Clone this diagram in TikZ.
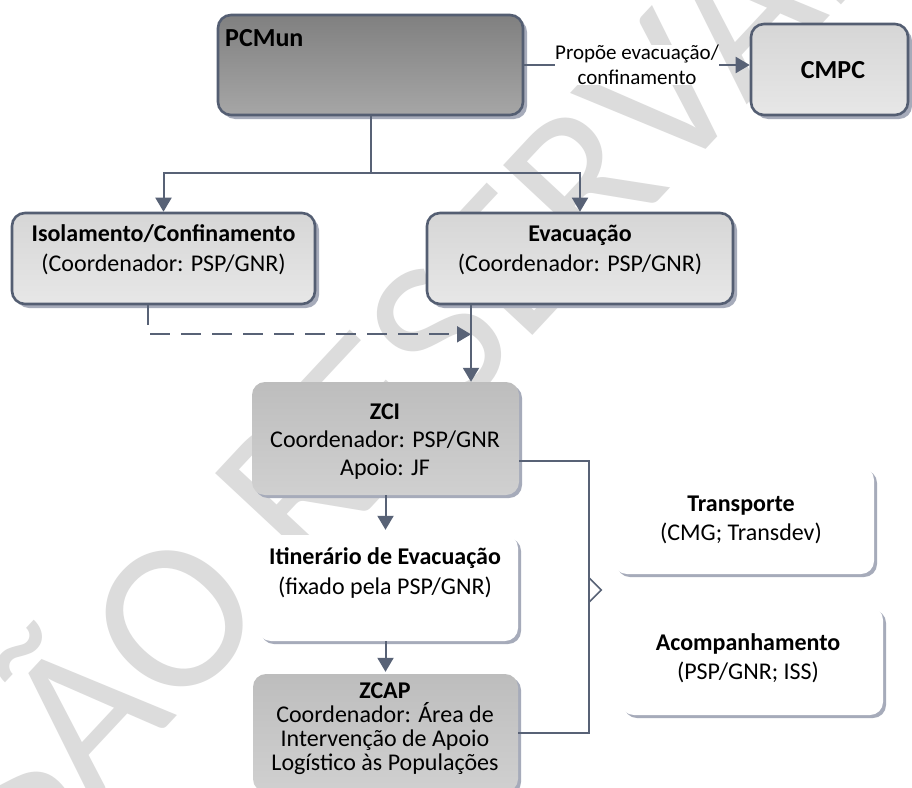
\documentclass[tikz,border=0pt]{standalone}
\usepackage{fontspec}
\setmainfont{Carlito}
\usetikzlibrary{arrows.meta,calc}
\definecolor{edgec}{RGB}{84,94,114}
\definecolor{connc}{RGB}{88,98,118}
\definecolor{shadowc}{RGB}{166,171,186}
\definecolor{wmarkc}{RGB}{220,220,220}
\tikzset{
  conn/.style={draw=connc, line width=2pt},
  arr/.style={-{Triangle[length=14pt,width=16pt]}},
  dashconn/.style={conn, dash pattern=on 20pt off 11pt},
  panel/.style={rectangle, rounded corners=13pt, inner sep=0pt},
  shadowed/.style={preaction={fill=shadowc, transform canvas={shift={(#1,-#1)}}}},
  darkpanel/.style={panel, shadowed=4pt, draw=edgec, line width=2.6pt,
    top color={rgb,255:red,128;green,128;blue,128}, bottom color={rgb,255:red,166;green,166;blue,166}},
  lightpanel/.style={panel, shadowed=4pt, draw=edgec, line width=2.6pt,
    top color={rgb,255:red,214;green,214;blue,214}, bottom color={rgb,255:red,231;green,231;blue,231}},
  graypanel/.style={panel, shadowed=3pt,
    top color={rgb,255:red,189;green,189;blue,189}, bottom color={rgb,255:red,208;green,208;blue,208}},
  whitepanel/.style={panel, shadowed=3pt, fill=white},
  txt/.style={inner sep=0pt, align=center, font=\fontsize{24}{30}\selectfont},
  title/.style={inner sep=0pt, font=\fontsize{26}{30}\selectfont\bfseries},
}
\begin{document}
\begin{tikzpicture}[x=1pt,y=-1pt]
\useasboundingbox (0,0) rectangle (912,787);
\clip (0,0) rectangle (912,787);
\fill[white] (0,0) rectangle (912,787);

% watermark behind everything
\node[inner sep=0pt, text=wmarkc, rotate=47, font=\fontsize{214}{214}\selectfont] (wm) at (338,420) {VERSÃO RESERVADA};

% panels
\node[darkpanel, minimum width=305pt, minimum height=100pt] (pcmun) at (370.5,65) {};
\node[lightpanel, minimum width=157pt, minimum height=91pt] (cmpc) at (829.5,69.5) {};
\node[lightpanel, minimum width=303pt, minimum height=91pt] (iso) at (163.5,258.5) {};
\node[lightpanel, minimum width=306pt, minimum height=91pt] (evac) at (580,258.5) {};
\node[graypanel, minimum width=267pt, minimum height=113pt] (zci) at (385.5,438.5) {};
\node[whitepanel, minimum width=260pt, minimum height=106pt] (itin) at (388,588) {};
\node[graypanel, minimum width=265pt, minimum height=118pt] (zcap) at (385.5,733) {};
\node[whitepanel, minimum width=260pt, minimum height=107pt] (trans) at (744,520.5) {};
\node[whitepanel, minimum width=262pt, minimum height=108pt] (acomp) at (752,661) {};

% texts
\node[title, anchor=west] (pcmunT) at (225,38) {PCMun};
\node[title] (cmpcT) at (833,70) {CMPC};
\node[txt] (isoT) at (163.5,250) {\textbf{Isolamento/Confinamento}\\(Coordenador: PSP/GNR)};
\node[txt] (evacT) at (580,250) {\textbf{Evacuação}\\(Coordenador: PSP/GNR)};
\node[txt, font=\fontsize{24}{28}\selectfont] (zciT) at (385,441.5) {\textbf{ZCI}\\Coordenador: PSP/GNR\\Apoio: JF};
\node[txt] (itinT) at (385,573) {\textbf{Itinerário de Evacuação}\\(fixado pela PSP/GNR)};
\node[txt, font=\fontsize{24}{24}\selectfont] (zcapT) at (385,729) {\textbf{ZCAP}\\Coordenador: Área de\\Intervenção de Apoio\\Logístico às Populações};
\node[txt, font=\fontsize{24}{29}\selectfont] (transT) at (741,519.5) {\textbf{Transporte}\\(CMG; Transdev)};
\node[txt, font=\fontsize{24}{29}\selectfont] (acompT) at (748,658.5) {\textbf{Acompanhamento}\\(PSP/GNR; ISS)};

% connectors
\draw[conn] (pcmun.south) -- ++(0,57) coordinate (split);
\draw[conn, arr] (split) -| (iso.north);
\draw[conn, arr] (split) -| (evac.north);

\draw[conn, arr] (pcmun.east) -- (pcmun.east -| cmpc.west)
  node[midway, fill=white, inner sep=0pt, align=center, font=\fontsize{21}{25}\selectfont] (lbl) {Propõe evacuação/\\confinamento};

\coordinate (isoout) at ([xshift=-15.5pt]iso.south);
\coordinate (evacout) at ([xshift=-109pt]evac.south);
\draw[conn, arr] (evacout) -- (evacout |- zci.north);
\draw[dashconn, arr] (isoout) |- ($(evacout)+(0,29)$);

\draw[conn, arr, shorten >=5pt] (zci.south) -- (zci.south |- itin.north);
\draw[conn, arr, shorten >=2pt] (zci.south |- itin.south) -- (zci.south |- zcap.north);

\draw[conn] ([yshift=-22.5pt]zci.east) -- ++(70,0) coordinate (bus) |- (zcap.east);
\coordinate (chevtip) at ($(bus)+(12,129)$);
\draw[conn, line width=1.6pt] ($(chevtip)+(-12,-12)$) -- (chevtip) -- ($(chevtip)+(-12,12)$);
\end{tikzpicture}
\end{document}
